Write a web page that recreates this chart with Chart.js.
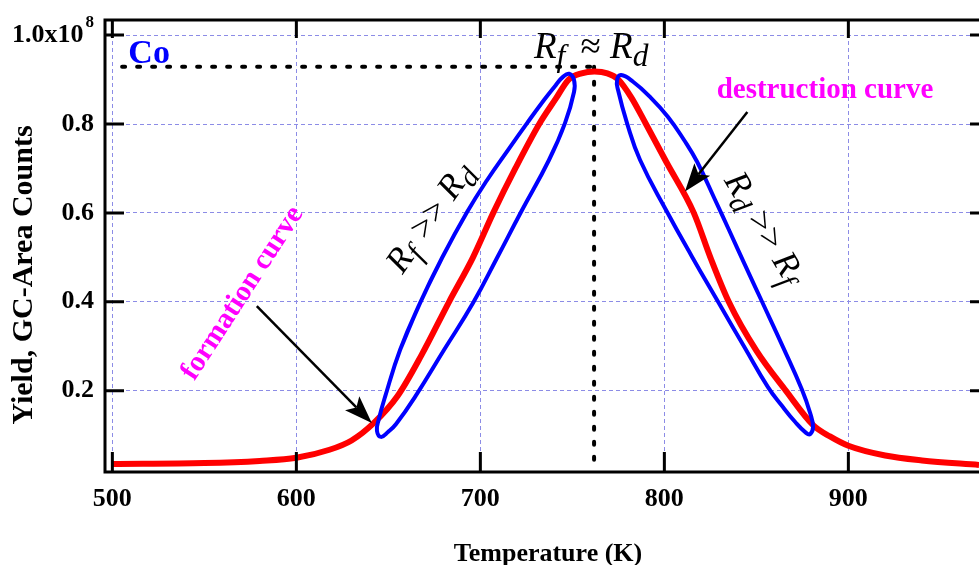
<!DOCTYPE html>
<html>
<head>
<meta charset="utf-8">
<script src="https://cdn.jsdelivr.net/npm/chart.js@4.4.1/dist/chart.umd.min.js"></script>
<style>
  html, body { margin: 0; padding: 0; background: #fff; }
  #wrap { width: 979px; height: 565px; position: relative; }
</style>
</head>
<body>
<div id="wrap"><canvas id="chart"></canvas></div>
<script>
// Co yield vs temperature (yield in units of 1e8 GC-area counts)
const temperature = [500, 550, 580, 600, 618, 630, 642, 655, 668, 683, 696, 707, 719, 732, 741, 748, 755, 762, 769, 775, 782, 790, 801, 816, 825, 835, 850, 866, 881, 890, 900, 920, 940, 971];
const yieldCounts = [0.035, 0.037, 0.042, 0.049, 0.067, 0.088, 0.127, 0.188, 0.28, 0.40, 0.50, 0.60, 0.70, 0.80, 0.857, 0.90, 0.914, 0.918, 0.914, 0.90, 0.86, 0.80, 0.715, 0.60, 0.50, 0.40, 0.29, 0.20, 0.122, 0.097, 0.076, 0.054, 0.043, 0.033];

// loop drawn round the formation branch (Rf >> Rd)
const leftLoopTemp = [667.2, 679.2, 692.8, 703.7, 715.1, 725.4, 734.6, 741.1, 744.9, 748.2, 750.9, 750.9, 746.0, 737.3, 722.1, 709.1, 696.0, 680.3, 664.5, 654.2, 649.8, 646.0, 643.8, 644.7, 648.2, 656.4, 667.2];
const leftLoopYield = [0.397, 0.499, 0.602, 0.674, 0.742, 0.802, 0.854, 0.888, 0.906, 0.913, 0.899, 0.872, 0.802, 0.719, 0.602, 0.499, 0.397, 0.292, 0.186, 0.125, 0.107, 0.096, 0.110, 0.134, 0.186, 0.292, 0.397];

// loop drawn round the destruction branch (Rd >> Rf)
const rightLoopTemp = [843.8, 853.1, 864.5, 874.8, 879.2, 880.8, 879.2, 877.0, 871.0, 863.9, 856.3, 843.8, 829.2, 815.1, 801.5, 786.8, 779.7, 774.8, 774.3, 776.5, 783.0, 792.2, 802.0, 810.7, 817.8, 827.6, 835.2, 843.8];
const rightLoopYield = [0.483, 0.400, 0.298, 0.202, 0.150, 0.118, 0.102, 0.105, 0.130, 0.166, 0.208, 0.296, 0.400, 0.501, 0.602, 0.719, 0.802, 0.877, 0.899, 0.910, 0.895, 0.861, 0.816, 0.764, 0.715, 0.629, 0.561, 0.483];

// dotted guides at the maximum (Rf ~ Rd)
const peakLevelTemp = [505.3, 761.8];
const peakLevelYield = [0.929, 0.929];
const peakDropTemp = [761.8, 761.8];
const peakDropYield = [0.929, 0.02];

const tempTicks = [500, 600, 700, 800, 900];
const yieldTicks = [0.2, 0.4, 0.6, 0.8, 1.0];

const serif = '"Liberation Serif", "Times New Roman", serif';

const toPoints = (xs, ys) => xs.map((x, i) => ({ x: x, y: ys[i] }));

// closed outline: repeat a neighbour on each end so the spline is smooth where it joins
const toLoop = (xs, ys) => {
    const pts = toPoints(xs, ys);
    return [pts[pts.length - 2], ...pts, pts[1]];
};

// annotation anchors, in data units
const notes = {
  co: { t: 508.7, y: 0.937 },
  peak: { t: 760.2, y: 0.977 },
  rise: { t: 671.8, y: 0.592, angle: -55 },
  fall: { t: 855.0, y: 0.569, angle: 59 },
  formation: { t: 570.8, y: 0.419, angle: -57 },
  destruction: { t: 887.3, y: 0.858 },
  formationArrow: { from: [578.5, 0.390], to: [641.0, 0.127] },
  destructionArrow: { from: [845.1, 0.827], to: [811.2, 0.648] }
};

function pos(chart, t, y){
    return [chart.scales.x.getPixelForValue(t), chart.scales.y.getPixelForValue(y)];
}

function drawArrow(ctx, from, to){
    const ang = Math.atan2(to[1] - from[1], to[0] - from[0]);
    const head = 28, half = 10, notch = 6;
    const c = Math.cos(ang), s = Math.sin(ang);
    const bx = to[0] - head * c, by = to[1] - head * s;
    const nx = bx + notch * c, ny = by + notch * s;
    ctx.strokeStyle = '#000';
    ctx.lineWidth = 2.5;
    ctx.beginPath();
    ctx.moveTo(from[0], from[1]);
    ctx.lineTo(nx, ny);
    ctx.stroke();
    ctx.fillStyle = '#000';
    ctx.beginPath();
    ctx.moveTo(to[0], to[1]);
    ctx.lineTo(bx + half * s, by - half * c);
    ctx.lineTo(nx, ny);
    ctx.lineTo(bx - half * s, by + half * c);
    ctx.closePath();
    ctx.fill();
}

// R with subscripts, drawn along a (possibly rotated) baseline centred on cx, cy
function drawRatio(ctx, parts, cx, cy, angle, size){
    ctx.save();
    ctx.translate(cx, cy);
    ctx.rotate(angle * Math.PI / 180);
    const fonts = parts.map(p => p.plain ? `${size}px ${serif}` : `italic ${p.sub ? size * 0.85 : size}px ${serif}`);
    const widths = parts.map((p, i) => { ctx.font = fonts[i]; return ctx.measureText(p.text).width + (p.gap || 0); });
    const total = widths.reduce((a, b) => a + b, 0);
    let x = -total / 2;
    ctx.fillStyle = '#000';
    ctx.textAlign = 'left';
    ctx.textBaseline = 'alphabetic';
    parts.forEach((p, i) => {
        ctx.font = fonts[i];
        ctx.fillText(p.text, x, size * 0.35 + (p.sub ? size * 0.22 : 0));
        x += widths[i];
    });
    ctx.restore();
}

function drawRotated(ctx, text, cx, cy, angle){
    ctx.save();
    ctx.translate(cx, cy);
    ctx.rotate(angle * Math.PI / 180);
    ctx.textAlign = 'center';
    ctx.textBaseline = 'middle';
    ctx.fillText(text, 0, 0);
    ctx.restore();
}

const notesPlugin = {
    id: 'notes',
    afterDatasetsDraw(chart){
        const ctx = chart.ctx;
        ctx.save();

        let p = pos(chart, notes.co.t, notes.co.y);
        ctx.font = `bold 34px ${serif}`;
        ctx.fillStyle = '#0000ff';
        ctx.textAlign = 'left';
        ctx.textBaseline = 'alphabetic';
        ctx.fillText('Co', p[0], p[1]);

        p = pos(chart, notes.destruction.t, notes.destruction.y);
        ctx.font = `bold 29px ${serif}`;
        ctx.fillStyle = '#ff00ff';
        ctx.textAlign = 'center';
        ctx.fillText('destruction curve', p[0], p[1]);

        p = pos(chart, notes.formation.t, notes.formation.y);
        drawRotated(ctx, 'formation curve', p[0], p[1], notes.formation.angle);

        p = pos(chart, notes.peak.t, notes.peak.y);
        drawRatio(ctx, [{text: 'R'}, {text: 'f', sub: true, gap: 6}, {text: ' \u2248 ', plain: true}, {text: 'R'}, {text: 'd', sub: true}], p[0], p[1], 0, 37);

        p = pos(chart, notes.rise.t, notes.rise.y);
        drawRatio(ctx, [{text: 'R'}, {text: 'f', sub: true, gap: 3}, {text: ' >> ', plain: true}, {text: 'R'}, {text: 'd', sub: true}], p[0], p[1], notes.rise.angle, 35);

        p = pos(chart, notes.fall.t, notes.fall.y);
        drawRatio(ctx, [{text: 'R'}, {text: 'd', sub: true}, {text: ' >> ', plain: true}, {text: 'R'}, {text: 'f', sub: true}], p[0], p[1], notes.fall.angle, 35);

        const fa = notes.formationArrow, da = notes.destructionArrow;
        drawArrow(ctx, pos(chart, fa.from[0], fa.from[1]), pos(chart, fa.to[0], fa.to[1]));
        drawArrow(ctx, pos(chart, da.from[0], da.from[1]), pos(chart, da.to[0], da.to[1]));

        ctx.restore();
    },
    afterDraw(chart){
        const ctx = chart.ctx;
        const {left, right, top, bottom} = chart.chartArea;
        const xs = chart.scales.x, ys = chart.scales.y;
        ctx.save();
        ctx.strokeStyle = '#000';
        ctx.lineWidth = 3;
        ctx.lineCap = 'square';
        ctx.beginPath();
        ctx.moveTo(right, top); ctx.lineTo(left, top);
        ctx.lineTo(left, bottom); ctx.lineTo(right, bottom);
        ctx.stroke();

        ctx.lineCap = 'butt';
        ctx.beginPath();
        tempTicks.forEach(t => {
            const x = xs.getPixelForValue(t);
            ctx.moveTo(x, bottom); ctx.lineTo(x, bottom - 20);
            ctx.moveTo(x, top); ctx.lineTo(x, top + 18);
        });
        yieldTicks.forEach(v => {
            const y = ys.getPixelForValue(v);
            ctx.moveTo(left, y); ctx.lineTo(left + 19, y);
            ctx.moveTo(right - 9, y); ctx.lineTo(right, y);
        });
        ctx.stroke();

        // exponent of the top tick label
        const y1 = ys.getPixelForValue(1.0);
        ctx.fillStyle = '#000';
        ctx.font = `bold 17px ${serif}`;
        ctx.textAlign = 'right';
        ctx.textBaseline = 'alphabetic';
        ctx.fillText('8', left - 11, y1 - 8);

        // axis titles
        ctx.font = `bold 26px ${serif}`;
        ctx.textAlign = 'center';
        ctx.textBaseline = 'alphabetic';
        ctx.fillText('Temperature (K)', (left + 991) / 2, 561);

        ctx.font = `bold 30px ${serif}`;
        drawRotated(ctx, 'Yield, GC-Area Counts', 24, 275, -90);
        ctx.restore();
    }
};

const tickFont = { family: serif, size: 26, weight: 'bold' };

new Chart(document.getElementById('chart'), {
    type: 'scatter',
    data: {
        datasets: [
            {
                label: 'formation branch',
                data: toLoop(leftLoopTemp, leftLoopYield),
                showLine: true, borderColor: '#0000ff', borderWidth: 4, tension: 0.45,
                pointRadius: 0, order: 0
            },
            {
                label: 'destruction branch',
                data: toLoop(rightLoopTemp, rightLoopYield),
                showLine: true, borderColor: '#0000ff', borderWidth: 4, tension: 0.45,
                pointRadius: 0, order: 0
            },
            {
                label: 'Co',
                data: toPoints(temperature, yieldCounts),
                showLine: true, borderColor: '#ff0000', borderWidth: 6,
                cubicInterpolationMode: 'monotone', pointRadius: 0, order: 1
            },
            {
                label: 'peak level',
                data: toPoints(peakLevelTemp, peakLevelYield),
                showLine: true, borderColor: '#000', borderWidth: 4,
                borderDash: [3, 12], borderCapStyle: 'round', pointRadius: 0, order: 2
            },
            {
                label: 'peak temperature',
                data: toPoints(peakDropTemp, peakDropYield),
                showLine: true, borderColor: '#000', borderWidth: 4,
                borderDash: [3, 12], borderCapStyle: 'round', pointRadius: 0, order: 2
            }
        ]
    },
    options: {
        responsive: true,
        maintainAspectRatio: false,
        animation: false,
        layout: { padding: { top: 20, left: 0, right: 0, bottom: 0 } },
        plugins: { legend: { display: false }, tooltip: { enabled: false } },
        scales: {
            x: {
                type: 'linear', min: 496, max: 971,
                afterBuildTicks: s => { s.ticks = tempTicks.map(v => ({ value: v })); },
                afterFit: s => { s.height = 93; s.paddingLeft = 0; s.paddingRight = 0; },
                grid: { color: '#8c8ce6', lineWidth: 1, drawTicks: false },
                border: { display: false, dash: [4, 3] },
                ticks: {
                    padding: 12, color: '#000', font: tickFont,
                    maxRotation: 0, autoSkip: false,
                    callback: v => String(v)
                }
            },
            y: {
                type: 'linear', min: 0.017, max: 1.034,
                afterBuildTicks: s => { s.ticks = yieldTicks.map(v => ({ value: v })); },
                afterFit: s => { s.width = 105; s.paddingTop = 0; s.paddingBottom = 0; },
                grid: { color: '#8c8ce6', lineWidth: 1, drawTicks: false },
                border: { display: false, dash: [4, 3] },
                ticks: {
                    padding: 11, color: '#000', font: tickFont,
                    callback: v => v === 1 ? '1.0x10\u2009\u2009' : v.toFixed(1)
                }
            }
        }
    },
    plugins: [notesPlugin]
});
</script>
</body>
</html>
